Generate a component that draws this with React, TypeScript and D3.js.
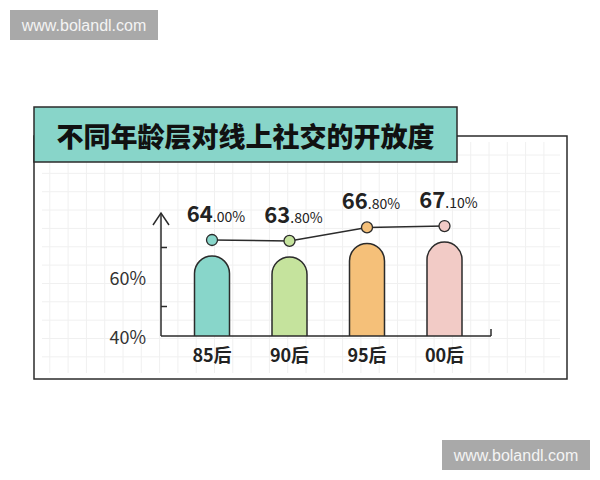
import React from 'react';
import * as d3 from 'd3';

const categories = ['85后', '90后', '95后', '00后'];
const values = [64.0, 63.8, 66.8, 67.1];
const axisLabels = [40, 60];
const axisMinorTicks = [50, 70];
const barColors = ['#88d6ca', '#c5e39d', '#f5c079', '#f2cbc6'];
const title = '不同年龄层对线上社交的开放度';
const watermark = 'www.bolandl.com';

const FONT = '"Noto Sans CJK SC", "Noto Sans", sans-serif';
const INK = '#2b2b2b';

const App: React.FC = () => {
  const frame = { x: 34, y: 136, w: 533, h: 243 };
  const titleBox = { x: 34, y: 107, w: 423, h: 55 };
  const axisX = 161;
  const axisEnd = 491;
  const barW = 35;

  const x = d3.scalePoint<string>().domain(categories).range([212, 444.5]);
  // axis scale (tick labels)
  const y = d3.scaleLinear().domain([40, 70]).range([336, 247.5]);
  // the graphic stretches bar heights relative to its axis
  const yBar = d3.scaleLinear().domain([60, 70]).range([274, 229]);

  const base = y(40);
  const dots = values.map((v, i) => ({
    cx: x(categories[i]) as number,
    cy: yBar(v) - 16,
  }));
  const line = d3
    .line<{ cx: number; cy: number }>()
    .x((d) => d.cx)
    .y((d) => d.cy);

  const gridXs = d3.range(-25, 5).map((k) => 489 + k * 18.3).filter((v) => v > 44 && v < 562);
  const gridYs = d3.range(-2, 14).map((k) => 155 + k * 18.35).filter((v) => v > 140 && v < 375);

  const barPath = (cx: number, top: number) => {
    const r = barW / 2;
    const p = d3.path();
    p.moveTo(cx - r, base);
    p.lineTo(cx - r, top + r);
    p.arc(cx, top + r, r, Math.PI, 0);
    p.lineTo(cx + r, base);
    return p.toString();
  };

  return (
    <div style={{ position: 'fixed', left: 0, top: 0, width: 600, height: 480, background: '#fff' }}>
      <svg width={600} height={480} style={{ display: 'block' }}>
        {/* watermarks */}
        <rect x={10} y={10} width={148} height={30} fill="#a9a9a9" />
        <text x={84} y={25} textAnchor="middle" dominantBaseline="central" fontFamily='"Liberation Sans", Arial, sans-serif' fontSize={16} fill="#f4f4f4">
          {watermark}
        </text>
        <rect x={442} y={440} width={148} height={30} fill="#a9a9a9" />
        <text x={516} y={455} textAnchor="middle" dominantBaseline="central" fontFamily='"Liberation Sans", Arial, sans-serif' fontSize={16} fill="#f4f4f4">
          {watermark}
        </text>

        {/* frame + grid */}
        <rect x={frame.x} y={frame.y} width={frame.w} height={frame.h} fill="#fff" stroke={INK} strokeWidth={1.5} />
        <g stroke="#f0f0f0" strokeWidth={1}>
          {gridXs.map((gx) => (
            <line key={'gx' + gx} x1={gx} x2={gx} y1={142} y2={373} />
          ))}
          {gridYs.map((gy) => (
            <line key={'gy' + gy} x1={42} x2={560} y1={gy} y2={gy} />
          ))}
        </g>

        {/* title */}
        <rect x={titleBox.x} y={titleBox.y} width={titleBox.w} height={titleBox.h} fill="#88d5c9" stroke={INK} strokeWidth={1.5} />
        <text
          x={titleBox.x + titleBox.w / 2}
          y={titleBox.y + titleBox.h / 2 + 1}
          textAnchor="middle"
          dominantBaseline="central"
          fontFamily={FONT}
          fontWeight={900}
          fontSize={27}
          fill="#111"
        >
          {title}
        </text>

        {/* bars */}
        {values.map((v, i) => (
          <path
            key={categories[i]}
            d={barPath(x(categories[i]) as number, yBar(v))}
            fill={barColors[i]}
            stroke={INK}
            strokeWidth={1.5}
          />
        ))}

        {/* axes */}
        <g stroke={INK} strokeWidth={1.5} fill="none">
          <line x1={axisX} x2={axisX} y1={base} y2={213} />
          <polyline points={`${axisX - 8},${225} ${axisX},${213} ${axisX + 8},${225}`} />
          <line x1={axisX} x2={axisEnd} y1={base} y2={base} />
          <line x1={axisEnd} x2={axisEnd} y1={base} y2={base - 7} />
          {axisMinorTicks.map((t) => (
            <line key={t} x1={axisX} x2={axisX + 6} y1={y(t)} y2={y(t)} />
          ))}
        </g>
        {axisLabels.map((t) => (
          <text key={t} x={146} y={y(t)} textAnchor="end" dominantBaseline="central" fontFamily={FONT} fontSize={18} fill="#333">
            {d3.format('d')(t)}%
          </text>
        ))}
        {categories.map((c) => (
          <text key={c} x={x(c)} y={362} textAnchor="middle" fontFamily={FONT} fontWeight={700} fontSize={18} fill="#222">
            {c}
          </text>
        ))}

        {/* line + dots */}
        <path d={line(dots) || ''} fill="none" stroke={INK} strokeWidth={1.5} />
        {dots.map((d, i) => (
          <circle key={i} cx={d.cx} cy={d.cy} r={5.5} fill={barColors[i]} stroke={INK} strokeWidth={1.3} />
        ))}
        {values.map((v, i) => {
          const [intPart, decPart] = v.toFixed(2).split('.');
          return (
            <text key={i} x={dots[i].cx + 4} y={dots[i].cy - 18} textAnchor="middle" fontFamily={FONT} fill="#222">
              <tspan fontSize={22} fontWeight={700}>{intPart}</tspan>
              <tspan fontSize={14}>.{decPart}%</tspan>
            </text>
          );
        })}
      </svg>
    </div>
  );
};

export default App;
